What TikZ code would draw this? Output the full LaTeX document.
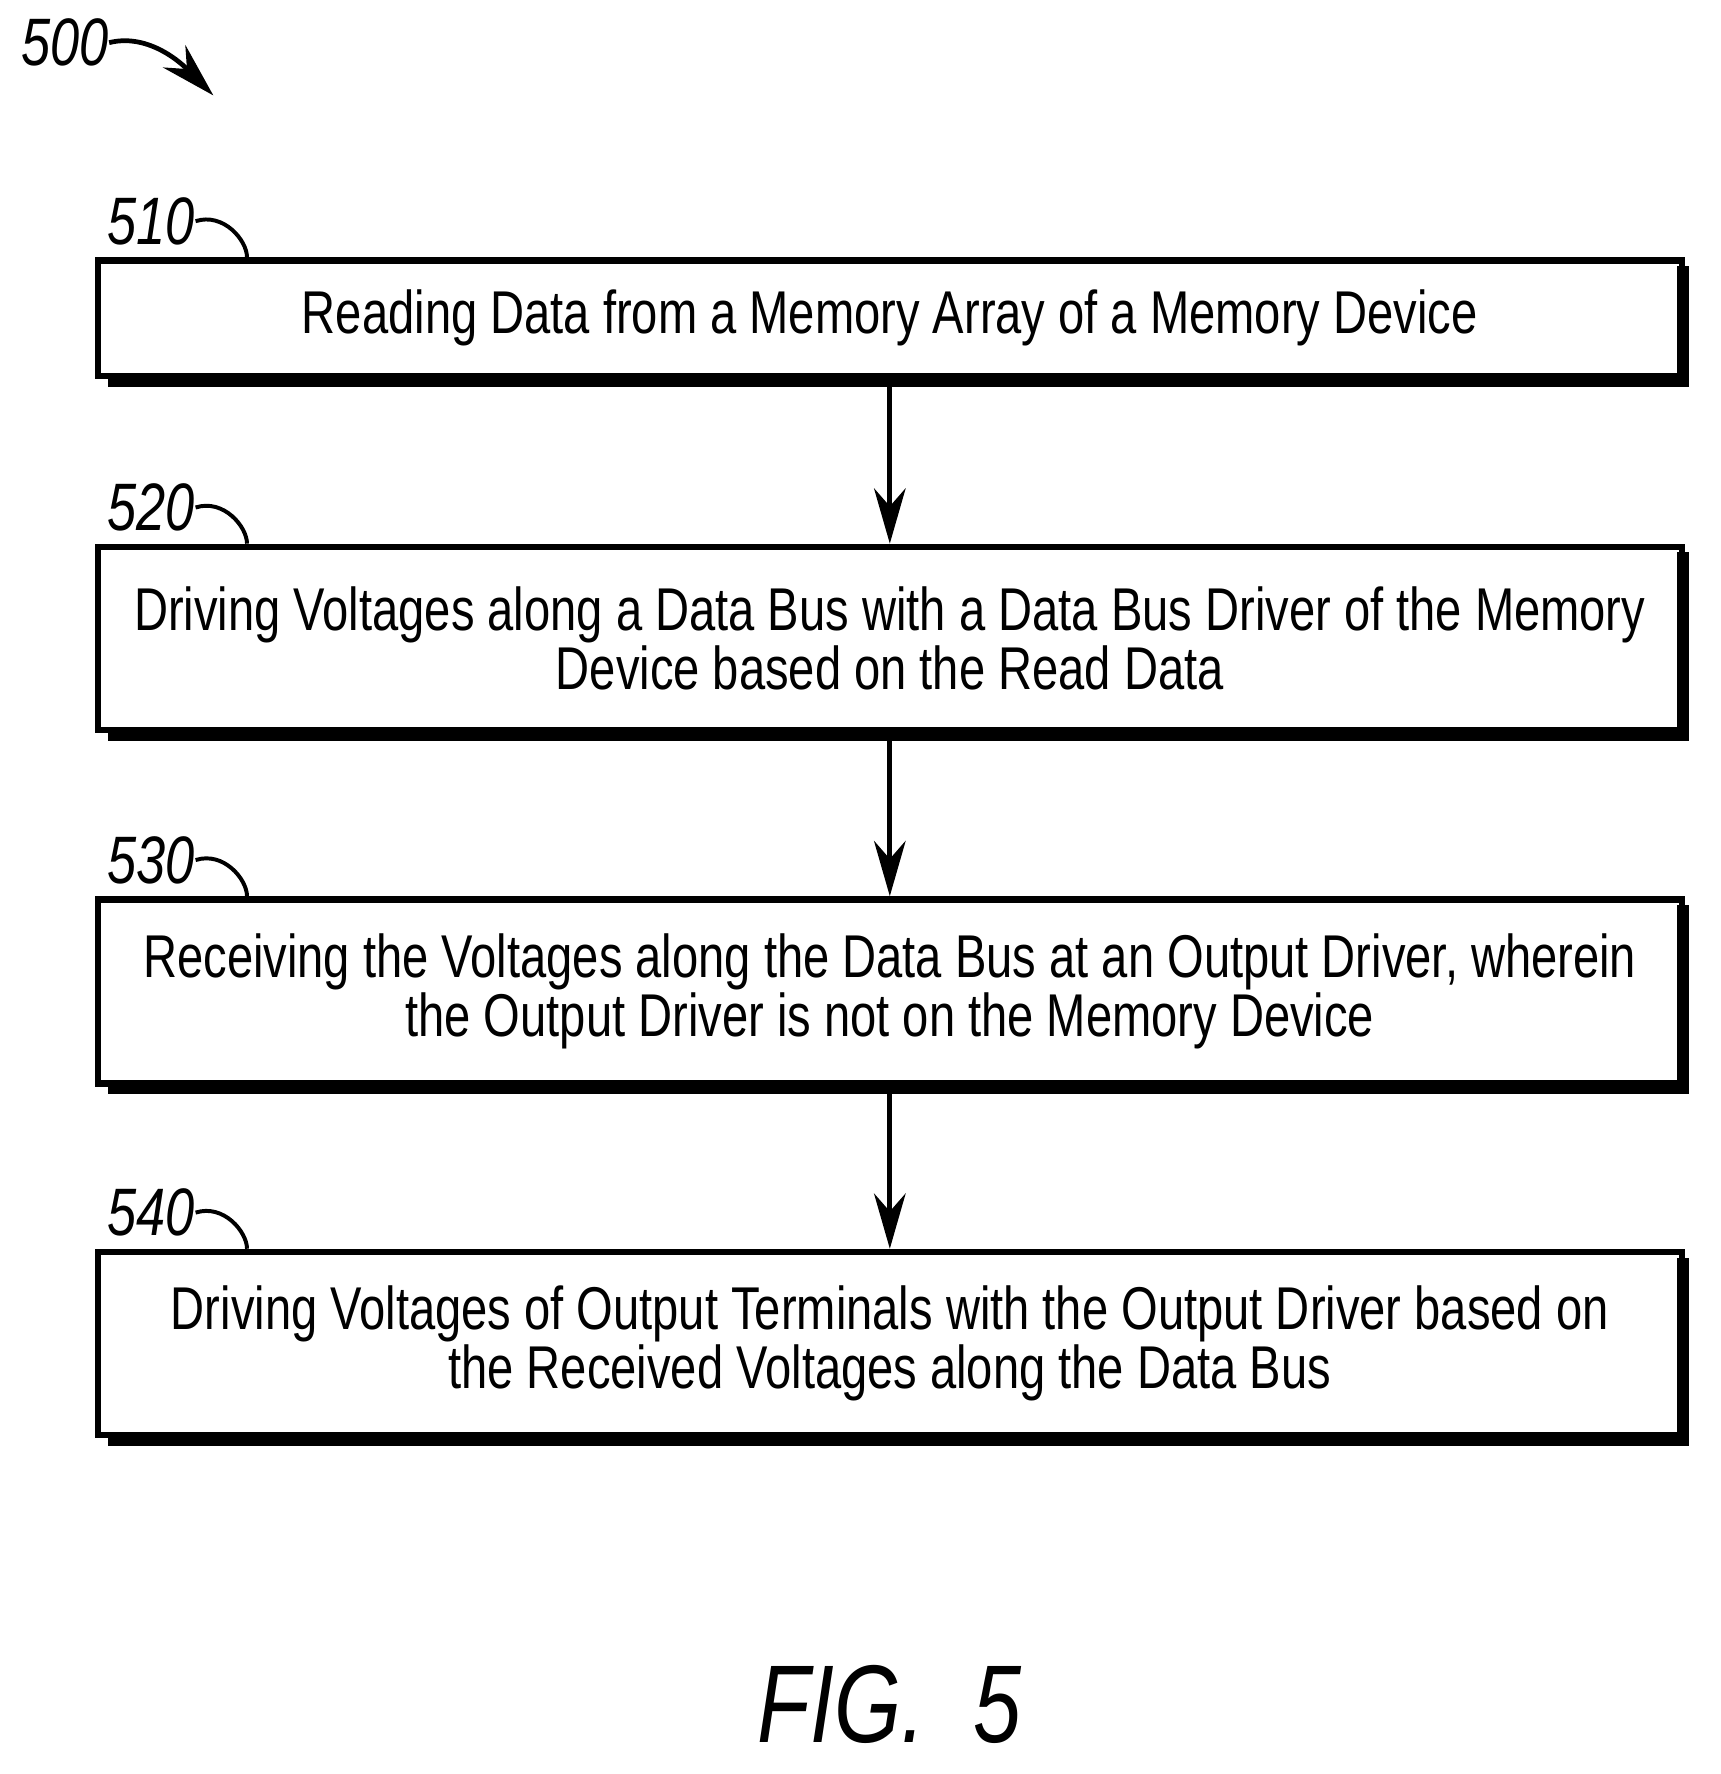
\documentclass[tikz,border=0pt]{standalone}
\usepackage{fontspec}
\setmainfont{Liberation Sans}[FakeStretch=0.78]
\usetikzlibrary{arrows.meta}
\begin{document}
\begin{tikzpicture}[x=0.01cm,y=-0.01cm,
  shadowline/.style={line width=3.2pt},
  arr/.style={-{Stealth[length=14pt,width=8pt]},line width=1.2pt},
  lbl/.style={font=\fontsize{17}{20}\selectfont\itshape,anchor=west,inner sep=0pt}]
\useasboundingbox (0,0) rectangle (1532,1580);
\foreach \n/\t/\b/\txt/\lab in {
  a/232/335/{Reading Data from a Memory Array of a Memory Device}/510,
  b/487/650/{Driving Voltages along a Data Bus with a Data Bus Driver of the Memory\\Device based on the Read Data}/520,
  c/801/965/{Receiving the Voltages along the Data Bus at an Output Driver, wherein\\the Output Driver is not on the Memory Device}/530,
  d/1115/1278/{Driving Voltages of Output Terminals with the Output Driver based on\\the Received Voltages along the Data Bus}/540}{
  \draw[shadowline] (96,\b+4) -- (1499,\b+4) -- (1499,\t+5);
  \node[draw,line width=1.6pt,minimum width=14.1cm,minimum height={(\b-\t)*0.01cm},inner sep=0pt,align=center,
     font=\fontsize{15.3}{14.8}\selectfont] (\n) at (792.5,{(\t+\b)/2}) {\txt};
  \node[lbl] (l\n) at (95,\t-35) {\lab};
  \draw[line width=1pt] (l\n.east) .. controls +(25,-8) and +(0,-15) .. (\n.north west -| 220,0);
}
\draw[arr] (a) -- (b);
\draw[arr] (b) -- (c);
\draw[arr] (c) -- (d);
\node[lbl] (top) at (18,38) {500};
\coordinate (tip) at (190,85);
\draw[arr,line width=1.2pt] (top.east) .. controls +(40,-10) and +(-20,-20) .. (tip);
\node[font=\fontsize{28}{32}\selectfont\itshape] (fig) at (792,1518) {FIG.~~5};
\end{tikzpicture}
\end{document}
